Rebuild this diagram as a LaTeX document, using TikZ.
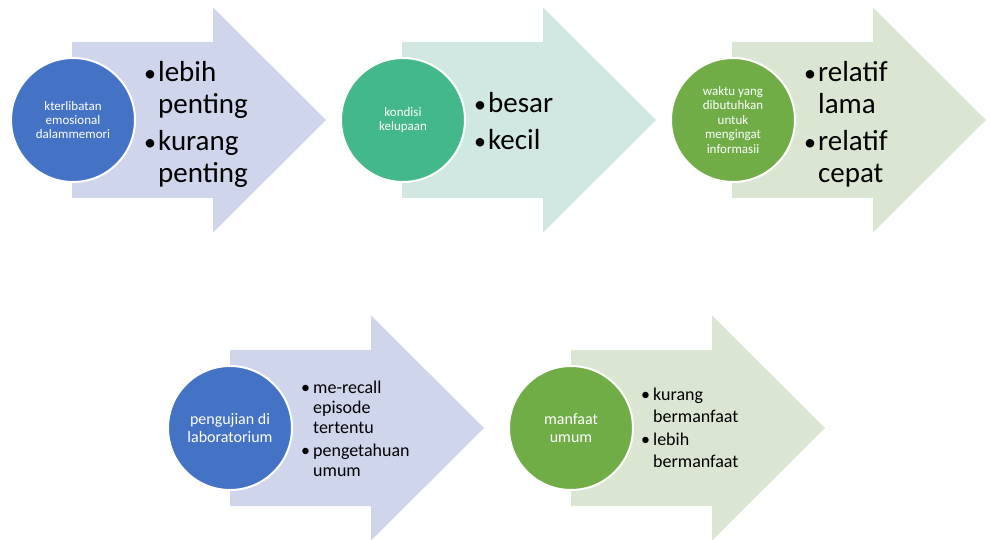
\documentclass[tikz,border=0pt]{standalone}
\usepackage{fontspec}
\setmainfont{Carlito}
\definecolor{cblue}{HTML}{4472C4}
\definecolor{fblue}{HTML}{CFD5EA}
\definecolor{cteal}{HTML}{43B98B}
\definecolor{fteal}{HTML}{D1E8E2}
\definecolor{cgreen}{HTML}{70AD47}
\definecolor{fgreen}{HTML}{DAE6D2}
\newcommand\chevarrow[3]{% #1 left x, #2 centre y, #3 colour
  \fill[#3] (#1,#2-78) -- ++(141,0) -- ++(0,-34.5) -- (#1+254,#2) -- (#1+141,#2+112.5) -- ++(0,-34.5) -- (#1,#2+78) -- cycle;}
\newcommand\bigbul{{\fontsize{24}{32}\selectfont •}}
\tikzset{
  circ/.style={circle, draw=white, line width=2pt, minimum size=124pt, inner sep=0pt, text=white, align=center},
  listtxt/.style={anchor=west, inner sep=0pt, text=black}
}
\begin{document}
\begin{tikzpicture}[x=1pt,y=-1pt]
\useasboundingbox (0,0) rectangle (990,540);
\chevarrow{72}{120}{fblue}
\chevarrow{402}{120}{fteal}
\chevarrow{732}{120}{fgreen}
\chevarrow{230}{428}{fblue}
\chevarrow{571}{428}{fgreen}
\node[circ, fill=cblue, font=\fontsize{13}{14}\selectfont] (c1) at (73,120) {kterlibatan\\emosional\\dalammemori};
\node[circ, fill=cteal, font=\fontsize{13}{14}\selectfont] (c2) at (403,120) {kondisi\\kelupaan};
\node[circ, fill=cgreen, font=\fontsize{13}{14.5}\selectfont] (c3) at (733,120) {waktu yang\\dibutuhkan\\untuk\\mengingat\\informasii};
\node[circ, fill=cblue, font=\fontsize{16}{18}\selectfont] (c4) at (230,428) {pengujian di\\laboratorium};
\node[circ, fill=cgreen, font=\fontsize{16}{18}\selectfont] (c5) at (571,428) {manfaat\\umum};
\node[listtxt, font=\fontsize{29}{32}\selectfont] (t1) at (144,126)
  {\begin{tabular}{@{}l@{\hspace{2pt}}l@{}}\bigbul&lebih\\&penting\\[5pt]\bigbul&kurang\\&penting\end{tabular}};
\node[listtxt, font=\fontsize{29}{32}\selectfont] (t2) at (474,124.5)
  {\begin{tabular}{@{}l@{\hspace{2pt}}l@{}}\bigbul&besar\\[5pt]\bigbul&kecil\end{tabular}};
\node[listtxt, font=\fontsize{29}{32}\selectfont] (t3) at (804,126)
  {\begin{tabular}{@{}l@{\hspace{2pt}}l@{}}\bigbul&relatif\\&lama\\[5pt]\bigbul&relatif\\&cepat\end{tabular}};
\node[listtxt, font=\fontsize{18}{20}\selectfont] (t4) at (301,430.5)
  {\begin{tabular}{@{}l@{\hspace{3pt}}l@{}}•&me-recall\\&episode\\&tertentu\\[3pt]•&pengetahuan\\&umum\end{tabular}};
\node[listtxt, font=\fontsize{18}{22}\selectfont] (t5) at (641,430)
  {\begin{tabular}{@{}l@{\hspace{3pt}}l@{}}•&kurang\\&bermanfaat\\[1pt]•&lebih\\&bermanfaat\end{tabular}};
\end{tikzpicture}
\end{document}
